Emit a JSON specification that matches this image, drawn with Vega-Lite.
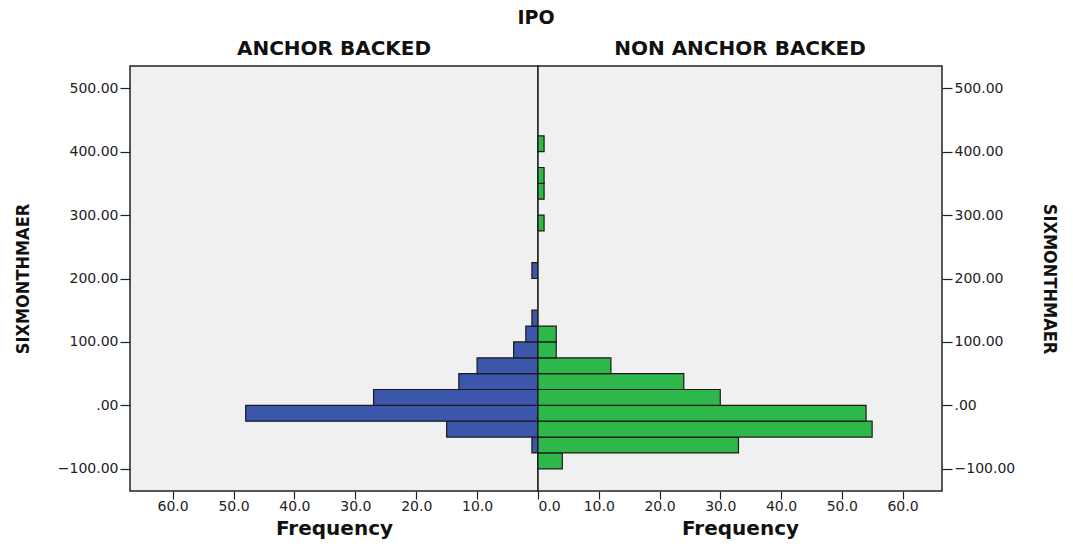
{
  "$schema": "https://vega.github.io/schema/vega-lite/v6.json",
  "background": "white",
  "padding": {"left": 13, "top": 9, "right": 4, "bottom": 4},
  "bounds": "flush",
  "title": {"text": "IPO", "font": "DejaVu Sans", "fontSize": 19, "fontWeight": "bold", "color": "#111", "anchor": "middle", "offset": 10},
  "data": {"values": [
    {"group": "ANCHOR BACKED", "lo": -75, "hi": -50, "freq": 1},
    {"group": "ANCHOR BACKED", "lo": -50, "hi": -25, "freq": 15},
    {"group": "ANCHOR BACKED", "lo": -25, "hi": 0, "freq": 48},
    {"group": "ANCHOR BACKED", "lo": 0, "hi": 25, "freq": 27},
    {"group": "ANCHOR BACKED", "lo": 25, "hi": 50, "freq": 13},
    {"group": "ANCHOR BACKED", "lo": 50, "hi": 75, "freq": 10},
    {"group": "ANCHOR BACKED", "lo": 75, "hi": 100, "freq": 4},
    {"group": "ANCHOR BACKED", "lo": 100, "hi": 125, "freq": 2},
    {"group": "ANCHOR BACKED", "lo": 125, "hi": 150, "freq": 1},
    {"group": "ANCHOR BACKED", "lo": 200, "hi": 225, "freq": 1},
    {"group": "NON ANCHOR BACKED", "lo": -100, "hi": -75, "freq": 4},
    {"group": "NON ANCHOR BACKED", "lo": -75, "hi": -50, "freq": 33},
    {"group": "NON ANCHOR BACKED", "lo": -50, "hi": -25, "freq": 55},
    {"group": "NON ANCHOR BACKED", "lo": -25, "hi": 0, "freq": 54},
    {"group": "NON ANCHOR BACKED", "lo": 0, "hi": 25, "freq": 30},
    {"group": "NON ANCHOR BACKED", "lo": 25, "hi": 50, "freq": 24},
    {"group": "NON ANCHOR BACKED", "lo": 50, "hi": 75, "freq": 12},
    {"group": "NON ANCHOR BACKED", "lo": 75, "hi": 100, "freq": 3},
    {"group": "NON ANCHOR BACKED", "lo": 100, "hi": 125, "freq": 3},
    {"group": "NON ANCHOR BACKED", "lo": 275, "hi": 300, "freq": 1},
    {"group": "NON ANCHOR BACKED", "lo": 325, "hi": 350, "freq": 1},
    {"group": "NON ANCHOR BACKED", "lo": 350, "hi": 375, "freq": 1},
    {"group": "NON ANCHOR BACKED", "lo": 400, "hi": 425, "freq": 1}
  ]},
  "spacing": 0,
  "hconcat": [
    {
      "width": 408,
      "height": 425,
      "title": {"text": "ANCHOR BACKED"},
      "transform": [{"filter": "datum.group == 'ANCHOR BACKED'"}],
      "mark": {"type": "bar", "color": "#3b56aa", "stroke": "#1a1a1a", "strokeWidth": 1.2},
      "encoding": {
        "y": {"field": "lo", "type": "quantitative", "scale": {"domain": [-135, 535], "nice": false, "zero": false},
          "axis": {"orient": "left", "title": "SIXMONTHMAER", "values": [-100, 0, 100, 200, 300, 400, 500],
            "labelExpr": "datum.value == 0 ? '.00' : format(datum.value, '.2f')"}},
        "y2": {"field": "hi"},
        "x": {"field": "freq", "type": "quantitative", "scale": {"domain": [0, 67], "reverse": true, "nice": false},
          "axis": {"title": "Frequency", "values": [10, 20, 30, 40, 50, 60], "format": ".1f"}},
        "x2": {"datum": 0}
      }
    },
    {
      "width": 404,
      "height": 425,
      "title": {"text": "NON ANCHOR BACKED"},
      "transform": [{"filter": "datum.group == 'NON ANCHOR BACKED'"}],
      "mark": {"type": "bar", "color": "#2eb84b", "stroke": "#1a1a1a", "strokeWidth": 1.2},
      "encoding": {
        "y": {"field": "lo", "type": "quantitative", "scale": {"domain": [-135, 535], "nice": false, "zero": false},
          "axis": {"orient": "right", "title": "SIXMONTHMAER", "titleAngle": 90, "values": [-100, 0, 100, 200, 300, 400, 500],
            "labelExpr": "datum.value == 0 ? '.00' : format(datum.value, '.2f')"}},
        "y2": {"field": "hi"},
        "x": {"field": "freq", "type": "quantitative", "scale": {"domain": [0, 66.5], "nice": false},
          "axis": {"title": "Frequency", "values": [0, 10, 20, 30, 40, 50, 60], "format": ".1f"}},
        "x2": {"datum": 0}
      }
    }
  ],
  "config": {
    "view": {"stroke": "#222", "strokeWidth": 1.5, "fill": "#f0f0f0"},
    "title": {"font": "DejaVu Sans", "fontSize": 20, "fontWeight": "bold", "color": "#111", "offset": 7},
    "axis": {
      "grid": false,
      "domain": false,
      "tickColor": "#222",
      "tickSize": 10,
      "tickWidth": 1.2,
      "labelFont": "DejaVu Sans",
      "labelFontSize": 14,
      "labelColor": "#222",
      "labelPadding": 2,
      "titleColor": "#111"
    },
    "axisX": {"tickSize": 8, "labelPadding": 0, "titleFont": "DejaVu Sans", "titleFontSize": 20, "titleFontWeight": "bold", "titlePadding": 5},
    "axisY": {"titleFont": "DejaVu Sans Condensed", "titleFontSize": 18, "titleFontWeight": "bold", "titlePadding": 25}
  }
}
